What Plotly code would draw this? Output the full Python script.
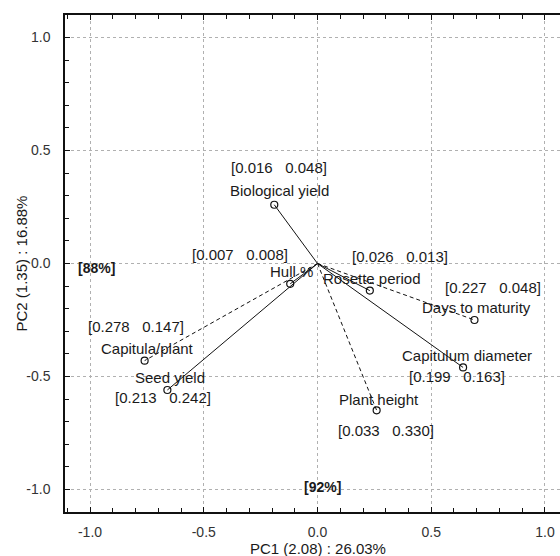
import plotly.graph_objects as go

variables = ["Biological yield", "Hull %", "Rosette period", "Days to maturity",
             "Capitulum diameter", "Plant height", "Capitula/plant", "Seed yield"]
pc1 = [-0.19, -0.12, 0.23, 0.69, 0.64, 0.26, -0.76, -0.66]
pc2 = [0.26, -0.09, -0.12, -0.25, -0.46, -0.65, -0.43, -0.56]
bracket_labels = ["[0.016   0.048]", "[0.007   0.008]", "[0.026   0.013]", "[0.227   0.048]",
                  "[0.199   0.163]", "[0.033   0.330]", "[0.278   0.147]", "[0.213   0.242]"]
line_dash = ["solid", "solid", "solid", "dash", "solid", "dash", "dash", "solid"]
# label offsets in pixels (name label, bracket label)
name_off = [(5, -14), (1, -12), (2, -12), (2, -12), (4, -12), (2, -11), (3, -12), (3, -13)]
brk_off = [(5, -37), (-50, -29), (30, -34), (19, -32), (-6, 9), (9, 20), (-9, -34), (-4, 7)]

x_title = "PC1 (2.08) : 26.03%"
y_title = "PC2 (1.35) : 16.88%"
x_ticks = [-1.0, -0.5, 0.0, 0.5, 1.0]
y_ticks = [-1.0, -0.5, 0.0, 0.5, 1.0]
tick_text = ["-1.0", "-0.5", "0.0", "0.5", "1.0"]

FONT = "Liberation Sans, Arial, sans-serif"
INK = "#1a1a1a"

fig = go.Figure()
for i, v in enumerate(variables):
    fig.add_trace(go.Scatter(
        x=[0, pc1[i]], y=[0, pc2[i]], mode="lines",
        line=dict(color="#111111", width=1, dash="4px,3px" if line_dash[i] == "dash" else "solid"),
        showlegend=False, hoverinfo="skip"))
fig.add_trace(go.Scatter(
    x=pc1, y=pc2, mode="markers",
    marker=dict(symbol="circle-open", size=7, color="#111111", line=dict(width=1.2)),
    showlegend=False, text=variables))

for i, v in enumerate(variables):
    fig.add_annotation(x=pc1[i], y=pc2[i], text=v, showarrow=False,
                       xshift=name_off[i][0], yshift=-name_off[i][1],
                       font=dict(family=FONT, size=15, color=INK))
    fig.add_annotation(x=pc1[i], y=pc2[i], text=bracket_labels[i], showarrow=False,
                       xshift=brk_off[i][0], yshift=-brk_off[i][1],
                       font=dict(family=FONT, size=15, color=INK))

fig.add_annotation(x=-0.97, y=-0.02, text="<b>[88%]</b>", showarrow=False,
                   font=dict(family=FONT, size=14, color=INK))
fig.add_annotation(x=0.02, y=-0.99, text="<b>[92%]</b>", showarrow=False,
                   font=dict(family=FONT, size=14, color=INK))

fig.add_annotation(x=0, xref="x", y=0, yref="paper", yshift=-36, yanchor="middle",
                   text=x_title, showarrow=False, font=dict(family=FONT, size=15, color=INK))
fig.add_annotation(x=0, xref="paper", xshift=-44, xanchor="center", y=0, yref="y",
                   text=y_title, textangle=-90, showarrow=False,
                   font=dict(family=FONT, size=15, color=INK))

axis_common = dict(
    showline=True, linecolor="#111111", linewidth=1.5,
    ticks="inside", ticklen=5, tickcolor="#111111", tickwidth=1,
    showgrid=True, gridcolor="#b0b0b0", griddash="dot", gridwidth=1,
    zeroline=False, automargin=False,
    tickfont=dict(family=FONT, size=14, color="#333333"),
    minor=dict(dtick=0.1, ticks="inside", ticklen=4, tickcolor="#111111", showgrid=False),
)
fig.update_xaxes(range=[-1.11, 1.066], tickvals=x_ticks, ticktext=tick_text,
                 mirror="allticks", ticklabelstandoff=6, **axis_common)
fig.update_yaxes(range=[-1.1, 1.1], tickvals=y_ticks, ticktext=tick_text,
                 mirror=False, ticklabelstandoff=10, **axis_common)

fig.update_layout(
    width=560, height=556,
    margin=dict(l=65, r=0, t=15, b=44, autoexpand=False),
    plot_bgcolor="white", paper_bgcolor="white",
    font=dict(family=FONT, color=INK),
)
fig.write_html(
    "out.html",
    config={"displayModeBar": False},
    post_script="document.body.style.margin='0';document.documentElement.style.overflow='hidden';",
)
